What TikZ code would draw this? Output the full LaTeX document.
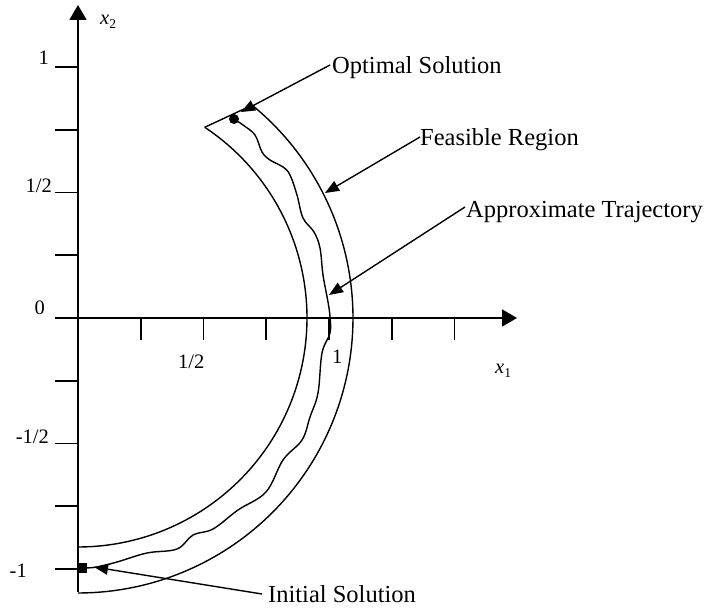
\documentclass[tikz,border=0pt]{standalone}
\usepackage{fontspec}
\setmainfont{Liberation Serif}
\usetikzlibrary{arrows.meta}
\tikzset{
  axisline/.style={line width=1.8pt, -{Triangle[length=15pt,width=17pt]}},
  tickline/.style={line width=1.8pt},
  curveline/.style={line width=1.4pt, line join=round},
  callout/.style={line width=1.4pt, -{Triangle[length=14pt,width=11pt]}},
  annot/.style={inner sep=0pt, font=\fontsize{24.5}{28}\selectfont},
  axlabel/.style={inner sep=0pt, font=\fontsize{20.5}{23}\selectfont},
}
\begin{document}
\begin{tikzpicture}[x=1pt,y=-1pt]
\useasboundingbox (0,0) rectangle (706,609);
% axes
\coordinate (O) at (78,318);
\coordinate (ybot) at (78,592);
\coordinate (ytop) at (78,5);
\coordinate (xleft) at (55,318);
\coordinate (xright) at (517,318);
\draw[axisline] (ybot) -- (ytop);
\draw[axisline] (xleft) -- (xright);
% y ticks
\foreach \k in {-4,-3,-2,-1,1,2,3,4}
  \draw[tickline] (55,{318-62.75*\k}) -- (78,{318-62.75*\k});
% x ticks
\foreach \k in {1,...,6}
  \draw[tickline] ({78+62.75*\k},318) -- ({78+62.75*\k},340);
% axis labels
\node[axlabel, anchor=base east] (ly1) at (49,65) {1};
\node[axlabel, anchor=base east] (lyh) at (52,193) {1/2};
\node[axlabel, anchor=base east] (ly0) at (45,315) {0};
\node[axlabel, anchor=base east] (lymh) at (49,443) {-1/2};
\node[axlabel, anchor=base east] (lym1) at (27,577) {-1};
\node[axlabel, anchor=base west] (lxh) at (178,368) {1/2};
\node[axlabel, anchor=base west] (lx1) at (332,363) {1};
\node[axlabel, anchor=base west] (lxv) at (495,373) {\textit{x}\raisebox{-4pt}{\fontsize{13.5}{14}\selectfont 1}};
\node[axlabel, anchor=base west] (lyv) at (100,25) {\textit{x}\raisebox{-4pt}{\fontsize{13.5}{14}\selectfont 2}};
% feasible region
\draw[curveline] plot[domain=56.4:-90, samples=120] ({78+229*cos(\x)},{318-229*sin(\x)})
  -- (78,547);
\draw[curveline] ({78+229*cos(56.4)},{318-229*sin(56.4)}) -- ({78+275*cos(50.7)},{318-275*sin(50.7)});
\draw[curveline] plot[domain=50.7:-90, samples=120] ({78+275*cos(\x)},{318-275*sin(\x)});
% trajectory
\node[circle, fill=black, inner sep=0pt, minimum size=10pt] (opt) at (234,119) {};
\node[rectangle, fill=black, inner sep=0pt, minimum size=10pt] (init) at (82,568) {};
\draw[curveline] plot[smooth, tension=0.6] coordinates {
 (234,119) (243,125) (255,135) (262,152) (270,160) (283,167) (290,175)
 (297,195) (303,218) (314,232) (320,248) (323,275) (328,302) (330,317)
 (330,333) (322,353) (318,393) (310,417) (302,440) (283,460) (266,492)
 (238,510) (213,529) (193,535) (177,549) (147,553) (117,562) (97,567) (84,568)};
% annotations
\node[annot, anchor=base west] (tOpt) at (332,74) {Optimal Solution};
\node[annot, anchor=base west] (tFeas) at (420,146) {Feasible Region};
\node[annot, anchor=base west] (tTraj) at (466,218) {Approximate Trajectory};
\node[annot, anchor=base west] (tInit) at (268,602) {Initial Solution};
\coordinate (sOpt) at (330,65);
\coordinate (sFeas) at (420,137);
\coordinate (sTraj) at (465,207);
\coordinate (sInit) at (262,594);
\coordinate (eOpt) at (241,112);
\coordinate (eFeas) at (325,193);
\coordinate (eTraj) at (329,295);
\coordinate (eInit) at (94,567);
\draw[callout] (sOpt) -- (eOpt);
\draw[callout] (sFeas) -- (eFeas);
\draw[callout] (sTraj) -- (eTraj);
\draw[callout] (sInit) -- (eInit);
\end{tikzpicture}
\end{document}
